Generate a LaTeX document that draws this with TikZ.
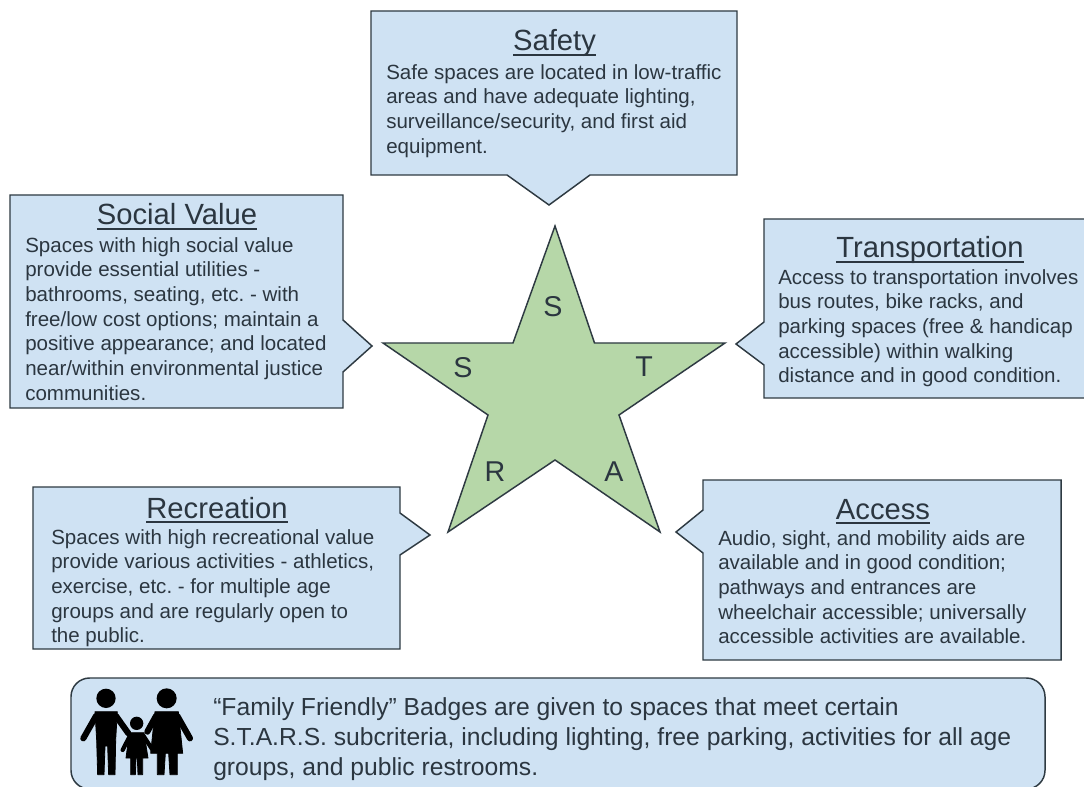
\documentclass[tikz,border=0pt]{standalone}
\usepackage{fontspec}
\setmainfont{Liberation Sans}
\frenchspacing
\definecolor{boxblue}{HTML}{CFE2F3}
\definecolor{stargreen}{HTML}{B6D7A8}
\definecolor{inkline}{HTML}{2E3A42}
\definecolor{inktext}{HTML}{2B3640}
\newsavebox\ttlbox
\newcommand\ttl[1]{\sbox\ttlbox{#1}\rlap{\usebox\ttlbox}\rule[-3.6pt]{\wd\ttlbox}{1.2pt}}
\tikzset{
  callout/.style={draw=inkline,fill=boxblue,line width=1.1pt,line join=miter},
  body/.style={anchor=north west,inner sep=0pt,align=left,text=inktext,font=\fontsize{15.4}{18.5}\selectfont},
  heading/.style={anchor=base,inner sep=0pt,text=inktext,font=\fontsize{21.9}{24}\selectfont},
  letter/.style={anchor=center,inner sep=0pt,text=inktext,font=\fontsize{21.5}{24}\selectfont},
  familytext/.style={anchor=north west,inner sep=0pt,align=left,text=inktext,font=\fontsize{18.5}{22.5}\selectfont},
  person/.style={fill=black,draw=black,line join=round,line width=.6pt},
  limb/.style={draw=black,line cap=round,line join=round}
}
\begin{document}
\begin{tikzpicture}[x=.75pt,y=-.75pt]
\useasboundingbox (0,0) rectangle (1084,787);
\clip (0,0) rectangle (1084,787);
\fill[white] (0,0) rectangle (1084,787);
% star
\path[draw=inkline,fill=stargreen,line width=1.1pt,line join=miter]
 (555,226)--(594.5,343)--(725,343)--(619,415)--(660,532)--(555,460)--(448,532)--(488,415)--(383,343)--(513,343)--cycle;
\node[letter] (ls1) at (553,307) {S};
\node[letter] (lt) at (644,367) {T};
\node[letter] (la) at (614,472) {A};
\node[letter] (lr) at (495,472) {R};
\node[letter] (ls2) at (463,368) {S};
% callouts
\path[callout] (371,11)--(737,11)--(737,175)--(590,175)--(549,205)--(507,175)--(371,175)--cycle;
\path[callout] (10,195)--(343,195)--(343,320)--(372,346)--(343,372)--(343,408)--(10,408)--cycle;
\path[callout] (764,219)--(1095,219)--(1095,398)--(764,398)--(764,365)--(736,344)--(764,322)--cycle;
\path[callout] (33,487)--(400,487)--(400,513)--(430,535)--(400,555)--(400,649)--(33,649)--cycle;
\path[callout] (703,480)--(1061,480)--(1061,660)--(703,660)--(703,553)--(676,532)--(703,510)--cycle;
\path[callout,rounded corners=14pt] (71,678)--(1045,678)--(1045,789)--(71,789)--cycle;
% headings
\node[heading] (h1) at (554.5,51) {\ttl{Safety}};
\node[heading] (h2) at (177,225) {\ttl{Social Value}};
\node[heading] (h3) at (930,258) {\ttl{Transportation}};
\node[heading] (h4) at (217,518) {\ttl{Recreation}};
\node[heading] (h5) at (883,519) {\ttl{Access}};
% bodies
\node[body] (b1) at (386,64) {Safe spaces are located in low-traffic\\areas and have adequate lighting,\\surveillance/security, and first aid\\equipment.};
\node[body] (b2) at (25,237) {Spaces with high social value\\provide essential utilities -\\bathrooms, seating, etc. - with\\free/low cost options; maintain a\\positive appearance; and located\\near/within environmental justice\\communities.};
\node[body] (b3) at (778,269) {Access to transportation involves\\bus routes, bike racks, and\\parking spaces (free \& handicap\\accessible) within walking\\distance and in good condition.};
\node[body] (b4) at (51,529) {Spaces with high recreational value\\provide various activities - athletics,\\exercise, etc. - for multiple age\\groups and are regularly open to\\the public.};
\node[body] (b5) at (718,530) {Audio, sight, and mobility aids are\\available and in good condition;\\pathways and entrances are\\wheelchair accessible; universally\\accessible activities are available.};
\node[familytext] (b6) at (213,697.5) {“Family Friendly” Badges are given to spaces that meet certain\\S.T.A.R.S. subcriteria, including lighting, free parking, activities for all age\\groups, and public restrooms.};
% family icon (coordinates in thirds of a pixel)
\begin{scope}[shift={(60,670)},x=.25pt,y=-.25pt]
 % man
 \fill (138,85) circle (29);
 \path[person] (105,125)--(172,125)--(167,210)--(165,314)--(146,314)--(143,228)--(135,228)--(132,314)--(113,314)--(110,210)--cycle;
 \draw[limb,line width=4.6pt] (108,138)--(70,205);
 \draw[limb,line width=4.6pt] (168,138)--(205,190);
 % woman
 \fill (320,85) circle (30);
 \path[person] (285,125)--(355,125)--(368,250)--(352,250)--(352,314)--(330,314)--(326,250)--(316,250)--(312,314)--(292,314)--(292,250)--(272,250)--cycle;
 \draw[limb,line width=4.6pt] (288,138)--(262,185);
 \draw[limb,line width=4.6pt] (352,138)--(390,205);
 % child
 \fill (230,160) circle (20);
 \path[person] (208,188)--(252,188)--(264,264)--(248,264)--(248,314)--(234,314)--(232,264)--(228,264)--(226,314)--(212,314)--(212,264)--(198,264)--cycle;
 \draw[limb,line width=3.2pt] (210,197)--(188,240);
 \draw[limb,line width=3.2pt] (250,197)--(278,240);
\end{scope}
\end{tikzpicture}
\end{document}
